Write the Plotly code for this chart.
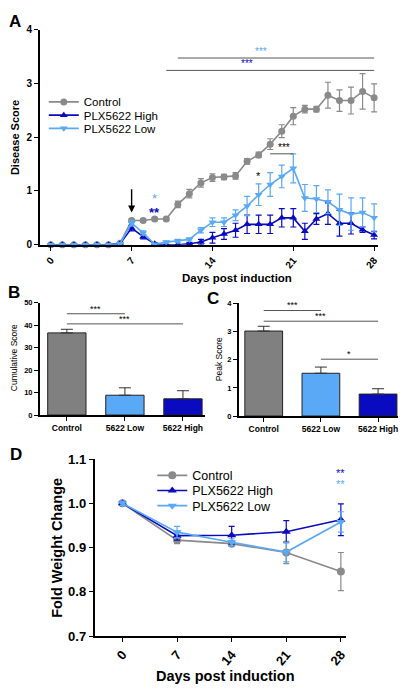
import plotly.graph_objects as go

# ---------------- data ----------------
days_A = list(range(29))
ctrl_A = [0, 0, 0, 0, 0, 0, 0.03, 0.45, 0.45, 0.48, 0.48, 0.75, 0.95, 1.15, 1.25, 1.26, 1.28,
          1.55, 1.67, 1.87, 2.11, 2.39, 2.52, 2.52, 2.78, 2.68, 2.68, 2.85, 2.73]
ctrl_A_err = [0, 0, 0, 0, 0, 0, 0.02, 0.03, 0.03, 0.03, 0.03, 0.06, 0.08, 0.08, 0.07, 0.05, 0.06,
              0.05, 0.05, 0.1, 0.12, 0.16, 0.07, 0.05, 0.24, 0.2, 0.25, 0.33, 0.26]
high_A = [0, 0, 0, 0, 0, 0, 0.02, 0.31, 0.15, 0.02, 0, 0, 0.02, 0.05, 0.13, 0.2, 0.27,
          0.38, 0.38, 0.38, 0.5, 0.5, 0.25, 0.48, 0.58, 0.4, 0.4, 0.28, 0.18]
high_A_err = [0, 0, 0, 0, 0, 0, 0.01, 0.05, 0.04, 0.02, 0, 0, 0.02, 0.05, 0.1, 0.1, 0.13,
              0.17, 0.17, 0.17, 0.17, 0.17, 0.15, 0.1, 0.2, 0.24, 0.2, 0.05, 0.07]
low_A = [0, 0, 0, 0, 0, 0, 0.02, 0.4, 0.22, 0.01, 0.05, 0.07, 0.1, 0.27, 0.42, 0.42, 0.55,
         0.72, 0.93, 1.12, 1.27, 1.42, 0.87, 0.85, 0.8, 0.65, 0.57, 0.6, 0.5]
low_A_err = [0, 0, 0, 0, 0, 0, 0.01, 0.05, 0.04, 0.01, 0.02, 0.03, 0.03, 0.05, 0.08, 0.08, 0.1,
             0.18, 0.2, 0.22, 0.21, 0.27, 0.25, 0.25, 0.22, 0.29, 0.3, 0.27, 0.26]

groups_BC = ["Control", "5622 Low", "5622 High"]
cum_score = [36.5, 8.8, 7.2]
cum_err = [1.6, 3.3, 3.6]
peak_score = [3.02, 1.52, 0.78]
peak_err = [0.17, 0.22, 0.19]

days_D = [0, 7, 14, 21, 28]
ctrl_D = [1.0, 0.917, 0.909, 0.889, 0.846]
ctrl_D_err = [0.004, 0.008, 0.005, 0.025, 0.043]
high_D = [1.0, 0.927, 0.928, 0.936, 0.963]
high_D_err = [0.004, 0.01, 0.02, 0.025, 0.036]
low_D = [1.0, 0.935, 0.912, 0.89, 0.958]
low_D_err = [0.005, 0.013, 0.008, 0.022, 0.023]

ticks_days = [0, 7, 14, 21, 28]
series_names = ["Control", "PLX5622 High", "PLX5622 Low"]

# ---------------- style ----------------
W, H = 415, 698
GRAY = "#8a8a8a"
DARK = "#0a0ac0"
LIGHT = "#5aa9f6"
BAR_GRAY = "#808080"
FONT = "Liberation Sans, Arial, sans-serif"


def px(x):
    return x / W


def py(y):
    return 1 - y / H


fig = go.Figure()


def line_trace(x, y, err, color, symbol, name, xa, ya, legend, msize):
    return go.Scatter(
        x=x, y=y, mode="lines+markers", name=name,
        line=dict(color=color, width=1.6),
        marker=dict(color=color, symbol=symbol, size=msize),
        error_y=dict(type="data", array=err, color=color, thickness=1.2, width=3),
        xaxis=xa, yaxis=ya, legend=legend, showlegend=True, cliponaxis=False,
    )


# Panel A
fig.add_trace(line_trace(days_A, ctrl_A, ctrl_A_err, GRAY, "circle", series_names[0], "x", "y", "legend", 7))
fig.add_trace(line_trace(days_A, high_A, high_A_err, DARK, "triangle-up", series_names[1], "x", "y", "legend2", 7))
fig.add_trace(line_trace(days_A, low_A, low_A_err, LIGHT, "triangle-down", series_names[2], "x", "y", "legend3", 7))

# Panel B / C bars
bar_colors = [BAR_GRAY, LIGHT, DARK]
fig.add_trace(go.Bar(
    x=groups_BC, y=cum_score, width=0.66,
    marker=dict(color=bar_colors, line=dict(color="#222", width=1)),
    error_y=dict(type="data", array=cum_err, arrayminus=[0, 0, 0], symmetric=False,
                 color="#333", thickness=1, width=6),
    xaxis="x2", yaxis="y2", showlegend=False,
))
fig.add_trace(go.Bar(
    x=groups_BC, y=peak_score, width=0.66,
    marker=dict(color=bar_colors, line=dict(color="#222", width=1)),
    error_y=dict(type="data", array=peak_err, arrayminus=[0, 0, 0], symmetric=False,
                 color="#333", thickness=1, width=6),
    xaxis="x3", yaxis="y3", showlegend=False,
))

# Panel D
fig.add_trace(line_trace(days_D, ctrl_D, ctrl_D_err, GRAY, "circle", series_names[0], "x4", "y4", "legend4", 8))
fig.add_trace(line_trace(days_D, high_D, high_D_err, DARK, "triangle-up", series_names[1], "x4", "y4", "legend5", 8))
fig.add_trace(line_trace(days_D, low_D, low_D_err, LIGHT, "triangle-down", series_names[2], "x4", "y4", "legend6", 8))

axis_common = dict(showgrid=False, zeroline=False, showline=True, linecolor="black",
                   linewidth=1.6, ticks="outside", ticklen=4, tickwidth=1.4, tickcolor="black")


def leg(x, y_center, size):
    return dict(x=px(x), y=py(y_center), xanchor="left", yanchor="middle",
                bgcolor="rgba(0,0,0,0)", font=dict(size=size), itemwidth=30,
                borderwidth=0)


fig.update_layout(
    width=W, height=H, margin=dict(l=0, r=0, t=0, b=0),
    paper_bgcolor="white", plot_bgcolor="white",
    font=dict(family=FONT, color="black"),
    xaxis=dict(domain=[px(40), px(380)], range=[-0.95, 28.35], anchor="y",
               tickvals=ticks_days, ticktext=[f"<b>{d}</b>" for d in ticks_days],
               tickangle=-50, tickfont=dict(size=10), **axis_common),
    yaxis=dict(domain=[py(243), py(23)], range=[0, 4], anchor="x",
               tickvals=[0, 1, 2, 3, 4], ticktext=[f"<b>{v}</b>" for v in [0, 1, 2, 3, 4]],
               tickfont=dict(size=10), **axis_common),
    xaxis2=dict(domain=[px(40), px(206)], range=[-0.466, 2.38], anchor="y2", type="category",
                tickvals=groups_BC, ticktext=[f"<b>{g}</b>" for g in groups_BC],
                tickfont=dict(size=8.5), **axis_common),
    yaxis2=dict(domain=[py(417), py(302)], range=[0, 50], anchor="x2",
                tickvals=[0, 10, 20, 30, 40, 50], ticktext=[f"<b>{v}</b>" for v in [0, 10, 20, 30, 40, 50]],
                tickfont=dict(size=7.5), **axis_common),
    xaxis3=dict(domain=[px(240), px(400)], range=[-0.435, 2.35], anchor="y3", type="category",
                tickvals=groups_BC, ticktext=[f"<b>{g}</b>" for g in groups_BC],
                tickfont=dict(size=8.5), **axis_common),
    yaxis3=dict(domain=[py(418), py(303)], range=[0, 4], anchor="x3",
                tickvals=[0, 1, 2, 3, 4], ticktext=[f"<b>{v}</b>" for v in [0, 1, 2, 3, 4]],
                tickfont=dict(size=7.5), **axis_common),
    xaxis4=dict(domain=[px(95), px(348)], range=[-3.58, 28.7], anchor="y4",
                tickvals=ticks_days, ticktext=[f"<b>{d}</b>" for d in ticks_days],
                tickangle=-50, tickfont=dict(size=13), **axis_common),
    yaxis4=dict(domain=[py(643), py(462)], range=[0.7, 1.1], anchor="x4",
                tickvals=[0.7, 0.8, 0.9, 1.0, 1.1],
                ticktext=[f"<b>{v:.1f}</b>" for v in [0.7, 0.8, 0.9, 1.0, 1.1]],
                tickfont=dict(size=13), **axis_common),
    legend=leg(44, 97, 11.5),
    legend2=leg(44, 110.5, 11.5),
    legend3=leg(44, 124, 11.5),
    legend4=leg(153, 479, 12.5),
    legend5=leg(153, 494.5, 12.5),
    legend6=leg(153, 510, 12.5),
)

ann = []
shapes = []


def text(x, y, s, size, angle=0, color="black", xanchor="center"):
    ann.append(dict(x=px(x), y=py(y), xref="paper", yref="paper", text=s, showarrow=False,
                    font=dict(size=size, color=color, family=FONT), textangle=angle,
                    xanchor=xanchor, yanchor="middle"))


# panel letters
text(7, 15, "<b>A</b>", 17, xanchor="left")
text(6, 292, "<b>B</b>", 17, xanchor="left")
text(206, 298, "<b>C</b>", 17, xanchor="left")
text(8, 457, "<b>D</b>", 17, xanchor="left")

# axis titles
text(15, 133, "<b>Disease Score</b>", 11, angle=-90)
text(238, 277, "<b>Days post induction</b>", 11.5)
text(14, 358, "Cumulative Score", 8.5, angle=-90)
text(220, 360, "Peak Score", 8.5, angle=-90)
text(57, 553, "<b>Fold Weight Change</b>", 14.5, angle=-90)
text(227, 684, "<b>Days post induction</b>", 14.5)

# Panel A significance: (x0, x1, line y, label x, label y, label, colour)
sigA = [(11, 28, 3.47, 18.2, 3.6, "***", LIGHT),
        (10, 28, 3.24, 17.0, 3.36, "***", DARK),
        (19, 21, 1.69, 20.2, 1.8, "***", "black")]
for x0, x1, yl, tx, ty, lab, col in sigA:
    shapes.append(dict(type="line", xref="x", yref="y", x0=x0, x1=x1, y0=yl, y1=yl,
                       line=dict(color="#555", width=1)))
    ann.append(dict(x=tx, y=ty, xref="x", yref="y", text=lab, showarrow=False,
                    font=dict(size=10, color=col)))
ann.append(dict(x=18, y=1.28, xref="x", yref="y", text="*", showarrow=False, font=dict(size=11, color="black")))
ann.append(dict(x=9, y=0.86, xref="x", yref="y", text="*", showarrow=False, font=dict(size=13, color=LIGHT)))
ann.append(dict(x=9, y=0.6, xref="x", yref="y", text="<b>**</b>", showarrow=False, font=dict(size=13, color=DARK)))
# arrow at day 7
ann.append(dict(x=7, y=0.6, ax=7, ay=1.06, xref="x", yref="y", axref="x", ayref="y", text="",
                showarrow=True, arrowhead=2, arrowsize=1, arrowwidth=1.4, arrowcolor="black"))

# Panel B significance (category indices)
for (a, b, yl, yt) in [(0, 1, 45, 47.3), (0, 2, 40.5, 42.8)]:
    shapes.append(dict(type="line", xref="x2", yref="y2", x0=a, x1=b, y0=yl, y1=yl,
                       line=dict(color="#555", width=1)))
    ann.append(dict(x=(a + b) / 2, y=yt, xref="x2", yref="y2", text="***", showarrow=False,
                    font=dict(size=9)))

# Panel C significance
for (a, b, yl, yt, lab) in [(0, 1, 3.75, 3.94, "***"), (0, 2, 3.37, 3.56, "***"), (1, 2, 2.02, 2.21, "*")]:
    shapes.append(dict(type="line", xref="x3", yref="y3", x0=a, x1=b, y0=yl, y1=yl,
                       line=dict(color="#555", width=1)))
    ann.append(dict(x=(a + b) / 2, y=yt, xref="x3", yref="y3", text=lab, showarrow=False,
                    font=dict(size=9)))

# Panel D significance
ann.append(dict(x=28, y=1.068, xref="x4", yref="y4", text="**", showarrow=False, font=dict(size=11, color=DARK)))
ann.append(dict(x=28, y=1.043, xref="x4", yref="y4", text="**", showarrow=False, font=dict(size=11, color=LIGHT)))

fig.update_layout(annotations=ann, shapes=shapes)
fig.write_html("out.html", config={"displayModeBar": False},
               post_script="document.body.style.margin='0';document.body.style.padding='0';")
